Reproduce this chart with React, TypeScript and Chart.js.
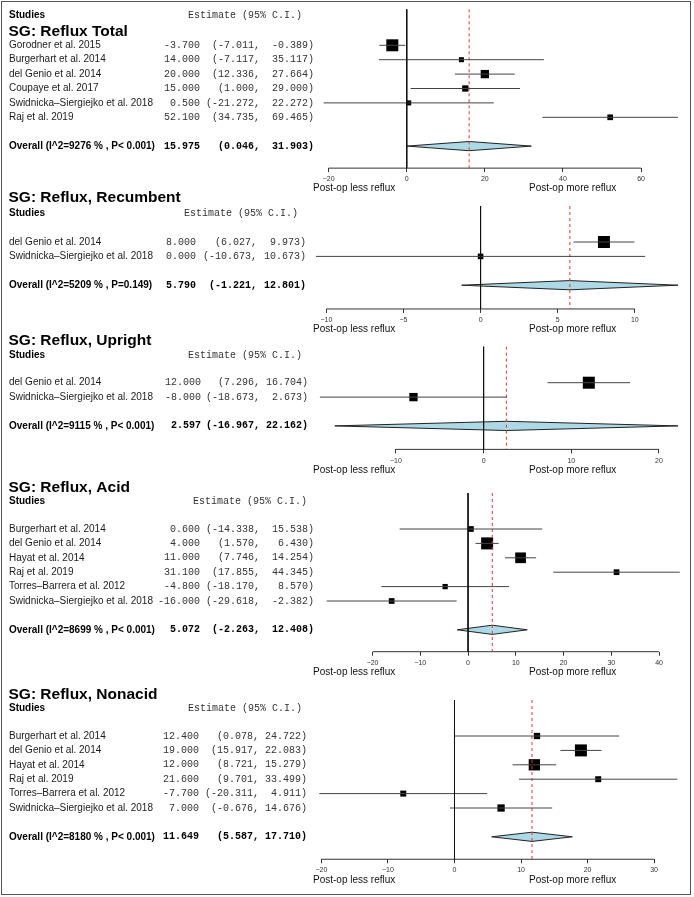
import React, { useEffect, useRef } from "react";
import { Chart, registerables } from "chart.js";

Chart.register(...registerables);
Chart.defaults.font.family = '"Liberation Sans", Arial, sans-serif';

const W = 694;
const H = 897;
const ROW = 14.4;
const BOX_MAX = 12;

// ---------- data ----------
const totalStudies = ["Gorodner et al. 2015", "Burgerhart et al. 2014", "del Genio et al. 2014", "Coupaye et al. 2017", "Swidnicka–Siergiejko et al. 2018", "Raj et al. 2019"];
const totalEst = [-3.7, 14.0, 20.0, 15.0, 0.5, 52.1];
const totalLo = [-7.011, -7.117, 12.336, 1.0, -21.272, 34.735];
const totalHi = [-0.389, 35.117, 27.664, 29.0, 22.272, 69.465];
const totalWeight = [43.0, 7.5, 20.6, 11.9, 7.5, 9.6];
const totalOverall = [15.975, 0.046, 31.903];
const totalTicks = [-20, 0, 20, 40, 60];

const recumbentStudies = ["del Genio et al. 2014", "Swidnicka–Siergiejko et al. 2018"];
const recumbentEst = [8.0, 0.0];
const recumbentLo = [6.027, -10.673];
const recumbentHi = [9.973, 10.673];
const recumbentWeight = [82, 18];
const recumbentOverall = [5.79, -1.221, 12.801];
const recumbentTicks = [-10, -5, 0, 5, 10];

const uprightStudies = ["del Genio et al. 2014", "Swidnicka–Siergiejko et al. 2018"];
const uprightEst = [12.0, -8.0];
const uprightLo = [7.296, -18.673];
const uprightHi = [16.704, 2.673];
const uprightWeight = [67.5, 32.5];
const uprightOverall = [2.597, -16.967, 22.162];
const uprightTicks = [-10, 0, 10, 20];

const acidStudies = ["Burgerhart et al. 2014", "del Genio et al. 2014", "Hayat et al. 2014", "Raj et al. 2019", "Torres–Barrera et al. 2012", "Swidnicka–Siergiejko et al. 2018"];
const acidEst = [0.6, 4.0, 11.0, 31.1, -4.8, -16.0];
const acidLo = [-14.338, 1.57, 7.746, 17.855, -18.17, -29.618];
const acidHi = [15.538, 6.43, 14.254, 44.345, 8.57, -2.382];
const acidWeight = [8.5, 37.5, 29.8, 8.5, 7.3, 8.5];
const acidOverall = [5.072, -2.263, 12.408];
const acidTicks = [-20, -10, 0, 10, 20, 30, 40];

const nonacidStudies = ["Burgerhart et al. 2014", "del Genio et al. 2014", "Hayat et al. 2014", "Raj et al. 2019", "Torres–Barrera et al. 2012", "Swidnicka–Siergiejko et al. 2018"];
const nonacidEst = [12.4, 19.0, 12.0, 21.6, -7.7, 7.0];
const nonacidLo = [0.078, 15.917, 8.721, 9.701, -20.311, -0.676];
const nonacidHi = [24.722, 22.083, 15.279, 33.499, 4.911, 14.676];
const nonacidWeight = [9.1, 33.0, 29.2, 8.2, 8.2, 12.2];
const nonacidOverall = [11.649, 5.587, 17.71];
const nonacidTicks = [-20, -10, 0, 10, 20, 30];

const panelTitles = ["SG: Reflux Total", "SG: Reflux, Recumbent", "SG: Reflux, Upright", "SG: Reflux, Acid", "SG: Reflux, Nonacid"];
const i2Values = ["9276", "5209", "9115", "8699", "8180"];
const pValues = ["P< 0.001", "P=0.149", "P< 0.001", "P< 0.001", "P< 0.001"];

// ---------- layout per panel ----------
type Panel = {
  title: string; studies: string[]; est: number[]; lo: number[]; hi: number[]; w: number[];
  overall: number[]; i2: string; p: string; ticks: number[];
  xMin: number; xMax: number; row0: number; axisRow: number; titleRow: number; headRow: number;
  estR: number; loR: number; hiR: number; headX: number;
};

const layouts = [
  { xMin: -27.34, xMax: 71.39, row0: 45.3, axisRow: 8.53, titleRow: -0.94, headRow: -2.1, estR: 200, loR: 260, hiR: 314, headX: 188 },
  { xMin: -11.71, xMax: 13.29, row0: 242, axisRow: 4.65, titleRow: -3.1, headRow: -2.0, estR: 196, loR: 257, hiR: 306, headX: 184 },
  { xMin: -20.94, xMax: 23.03, row0: 382.7, axisRow: 4.63, titleRow: -2.95, headRow: -1.92, estR: 201, loR: 260, hiR: 308, headX: 188 },
  { xMin: -35.2, xMax: 45.55, row0: 529, axisRow: 8.52, titleRow: -2.9, headRow: -1.94, estR: 200, loR: 260, hiR: 314, headX: 193 },
  { xMin: -23.22, xMax: 34.72, row0: 736, axisRow: 8.56, titleRow: -2.87, headRow: -1.92, estR: 199, loR: 259, hiR: 307, headX: 188 },
];

const panels: Panel[] = [
  { title: panelTitles[0], studies: totalStudies, est: totalEst, lo: totalLo, hi: totalHi, w: totalWeight, overall: totalOverall, i2: i2Values[0], p: pValues[0], ticks: totalTicks, ...layouts[0] },
  { title: panelTitles[1], studies: recumbentStudies, est: recumbentEst, lo: recumbentLo, hi: recumbentHi, w: recumbentWeight, overall: recumbentOverall, i2: i2Values[1], p: pValues[1], ticks: recumbentTicks, ...layouts[1] },
  { title: panelTitles[2], studies: uprightStudies, est: uprightEst, lo: uprightLo, hi: uprightHi, w: uprightWeight, overall: uprightOverall, i2: i2Values[2], p: pValues[2], ticks: uprightTicks, ...layouts[2] },
  { title: panelTitles[3], studies: acidStudies, est: acidEst, lo: acidLo, hi: acidHi, w: acidWeight, overall: acidOverall, i2: i2Values[3], p: pValues[3], ticks: acidTicks, ...layouts[3] },
  { title: panelTitles[4], studies: nonacidStudies, est: nonacidEst, lo: nonacidLo, hi: nonacidHi, w: nonacidWeight, overall: nonacidOverall, i2: i2Values[4], p: pValues[4], ticks: nonacidTicks, ...layouts[4] },
];

const fmt = (v: number) => v.toFixed(3);
const SANS = '"Liberation Sans", Arial, Helvetica, sans-serif';
const MONO = '"Liberation Mono", "Courier New", monospace';

function PanelChart({ p }: { p: Panel }) {
  const ref = useRef<HTMLCanvasElement>(null);
  useEffect(() => {
    if (!ref.current) return;
    const n = p.studies.length;
    const ovRow = n + 1;
    const topPx = p.row0 - 2.5 * ROW;
    const axisPx = p.row0 + p.axisRow * ROW;
    const AXIS_H = 20;
    const maxW = Math.max(...p.w);
    const [oe, ol, oh] = p.overall;
    const line = (data: any[], color: string, extra: any = {}) => ({
      type: "line", data, borderColor: color, borderWidth: 1, pointRadius: 0, tension: 0, fill: false, clip: false, ...extra,
    });
    const datasets: any[] = [];
    datasets.push(line([{ x: 0, y: -2.5 }, { x: 0, y: p.axisRow }], "#111"));
    p.studies.forEach((_, i) => datasets.push(line([{ x: p.lo[i], y: i }, { x: p.hi[i], y: i }], "#444")));
    datasets.push(line([{ x: oe, y: -2.5 }, { x: oe, y: p.axisRow }], "#e3342f", { borderDash: [3, 3] }));
    datasets.push(line(
      [{ x: ol, y: ovRow }, { x: oe, y: ovRow - 0.32 }, { x: oh, y: ovRow }, { x: oe, y: ovRow + 0.32 }, { x: ol, y: ovRow }],
      "#222", { fill: "shape", backgroundColor: "#add8e6" }
    ));
    datasets.push({
      type: "scatter",
      data: p.est.map((e, i) => ({ x: e, y: i })),
      pointStyle: "rect",
      pointRadius: p.w.map((w) => (BOX_MAX * Math.sqrt(w / maxW)) / Math.SQRT2),
      backgroundColor: "#000", borderColor: "#000", borderWidth: 0, clip: false,
    });
    datasets.push(line([{ x: p.ticks[0], y: p.axisRow }, { x: p.ticks[p.ticks.length - 1], y: p.axisRow }], "#333"));

    const textPlugin = {
      id: "forestText",
      afterDraw(chart: any) {
        const ctx = chart.ctx as CanvasRenderingContext2D;
        const ys = chart.scales.y;
        const Y = (r: number) => ys.getPixelForValue(r);
        ctx.save();
        ctx.textBaseline = "middle";
        ctx.textAlign = "left";
        ctx.fillStyle = "#000";
        ctx.font = `bold 15.5px ${SANS}`;
        ctx.fillText(p.title, 8.5, Y(p.titleRow));
        ctx.font = `bold 10px ${SANS}`;
        ctx.fillText("Studies", 9, Y(p.headRow));
        ctx.fillStyle = "#333";
        ctx.font = `10px ${MONO}`;
        ctx.fillText("Estimate (95% C.I.)", p.headX, Y(p.headRow));
        const drawNums = (e: number, l: number, h: number, y: number, bold: boolean) => {
          ctx.font = `${bold ? "bold " : ""}10px ${MONO}`;
          ctx.fillStyle = bold ? "#000" : "#333";
          ctx.textAlign = "right";
          ctx.fillText(fmt(e), p.estR, y);
          ctx.fillText("(" + fmt(l) + ",", p.loR, y);
          ctx.fillText(fmt(h) + ")", p.hiR, y);
        };
        p.studies.forEach((s, i) => {
          const y = Y(i);
          ctx.textAlign = "left";
          ctx.fillStyle = "#1a1a1a";
          ctx.font = `10px ${SANS}`;
          ctx.fillText(s, 9, y);
          drawNums(p.est[i], p.lo[i], p.hi[i], y, false);
        });
        const yo = Y(ovRow);
        ctx.textAlign = "left";
        ctx.fillStyle = "#000";
        ctx.font = `bold 10px ${SANS}`;
        ctx.fillText(`Overall (I^2=${p.i2} % , ${p.p})`, 9, yo);
        drawNums(oe, ol, oh, yo, true);
        // direction labels
        const yl = chart.chartArea.bottom + 20.5;
        ctx.textAlign = "left";
        ctx.fillStyle = "#111";
        ctx.font = `10px ${SANS}`;
        ctx.fillText("Post-op less reflux", 313, yl);
        ctx.fillText("Post-op more reflux", 529, yl);
        ctx.restore();
      },
    };

    const chart = new Chart(ref.current, {
      type: "line",
      data: { datasets },
      options: {
        responsive: false,
        animation: false,
        devicePixelRatio: 1,
        events: [],
        layout: { padding: { left: 300, right: 4, top: topPx, bottom: H - axisPx - AXIS_H } },
        plugins: { legend: { display: false }, tooltip: { enabled: false } },
        scales: {
          x: {
            type: "linear",
            min: p.xMin,
            max: p.xMax,
            afterBuildTicks: (axis: any) => { axis.ticks = p.ticks.map((v) => ({ value: v })); },
            afterFit: (axis: any) => { axis.height = AXIS_H; },
            border: { display: false },
            grid: { display: true, drawOnChartArea: false, drawTicks: true, tickLength: 4, color: "#333", lineWidth: 1 },
            ticks: {
              autoSkip: false, maxRotation: 0, padding: 3, color: "#333",
              font: { size: 7, family: SANS },
              callback: (v: any) => (Number(v) < 0 ? "−" + Math.abs(Number(v)) : String(v)),
            },
          },
          y: { type: "linear", display: false, reverse: true, min: -2.5, max: p.axisRow },
        },
      } as any,
      plugins: [textPlugin],
    } as any);
    return () => chart.destroy();
  }, [p]);
  return <canvas ref={ref} width={W} height={H} style={{ position: "absolute", left: 0, top: 0, width: W, height: H }} />;
}

export default function App() {
  return (
    <div style={{ position: "absolute", left: 0, top: 0, width: W, height: H, background: "#fff", overflow: "hidden" }}>
      <div style={{ position: "absolute", left: 1, top: 1, width: 690, height: 894, border: "1px solid #555", boxSizing: "border-box" }} />
      {panels.map((p, i) => (
        <PanelChart key={i} p={p} />
      ))}
    </div>
  );
}
